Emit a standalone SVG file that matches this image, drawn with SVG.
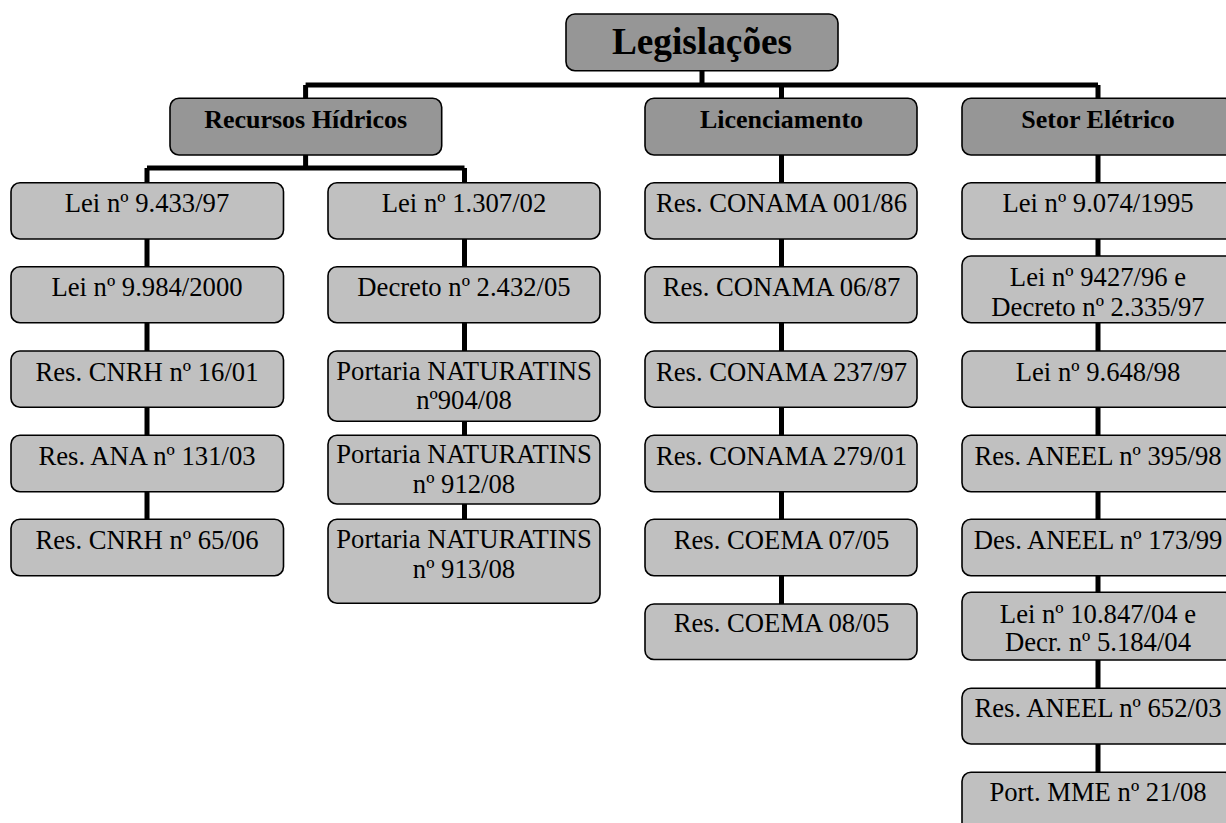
<svg xmlns="http://www.w3.org/2000/svg" width="1226" height="823" viewBox="0 0 1226 823">
<style>
.cat{fill:#969696;stroke:#000;stroke-width:1.6}
.leaf{fill:#c0c0c0;stroke:#000;stroke-width:1.6}
.t{font-family:"Liberation Serif","Times New Roman",serif;font-size:26.67px;fill:#000;text-anchor:middle}
.b{font-weight:bold}
.root{font-size:37.3px}
.cl{font-size:26px}
.c{stroke:#000;stroke-width:5;fill:none}
</style>
<rect width="1226" height="823" fill="#fff"/>
<g id="connectors">
<path class="c" d="M702 70 V85 M305.6 85 H1098 M305.6 85 V99 M781.5 85 V99 M1098 85 V99"/>
<path class="c" d="M305.6 155 V168 M147 168 H464.5 M147 168 V183 M464.5 168 V183"/>
<path class="c" d="M147 239 V267 M147 323 V351 M147 407 V435 M147 492 V519"/>
<path class="c" d="M464.5 239 V267 M464.5 323 V351 M464.5 421 V435 M464.5 504 V519"/>
<path class="c" d="M781.5 155 V183 M781.5 239 V267 M781.5 323 V351 M781.5 407 V435 M781.5 492 V519 M781.5 576 V604"/>
<path class="c" d="M1098 155 V183 M1098 239 V256 M1098 323 V351 M1098 407 V435 M1098 492 V519 M1098 576 V592 M1098 660 V688 M1098 744 V772"/>
</g>
<g id="root"><rect class="cat" x="566" y="14" width="272" height="56.7" rx="9"/><text class="t b root" x="702" y="54">Legislações</text></g>
<g id="recursos"><rect class="cat" x="170" y="98.3" width="271.7" height="56.7" rx="9"/><text class="t b cl" x="305.6" y="128.3">Recursos Hídricos</text></g>
<g id="licenciamento"><rect class="cat" x="645" y="98.3" width="272" height="56.7" rx="9"/><text class="t b cl" x="781.5" y="128.3">Licenciamento</text></g>
<g id="setor"><rect class="cat" x="962" y="98.3" width="272" height="56.7" rx="9"/><text class="t b cl" x="1098" y="128.3">Setor Elétrico</text></g>

<g id="rh1"><rect class="leaf" x="11" y="182.7" width="272.5" height="56.3" rx="9"/><text class="t" x="147" y="212.3">Lei nº 9.433/97</text></g>
<g id="rh2"><rect class="leaf" x="11" y="266.7" width="272.5" height="56" rx="9"/><text class="t" x="147" y="296">Lei nº 9.984/2000</text></g>
<g id="rh3"><rect class="leaf" x="11" y="351" width="272.5" height="56.3" rx="9"/><text class="t" x="147" y="380.5">Res. CNRH nº 16/01</text></g>
<g id="rh4"><rect class="leaf" x="11" y="435.3" width="272.5" height="56.4" rx="9"/><text class="t" x="147" y="464.8">Res. ANA nº 131/03</text></g>
<g id="rh5"><rect class="leaf" x="11" y="519.3" width="272.5" height="56.4" rx="9"/><text class="t" x="147" y="548.8">Res. CNRH nº 65/06</text></g>

<g id="rh6"><rect class="leaf" x="328" y="182.7" width="272" height="56.3" rx="9"/><text class="t" x="464" y="212.3">Lei nº 1.307/02</text></g>
<g id="rh7"><rect class="leaf" x="328" y="266.7" width="272" height="56" rx="9"/><text class="t" x="464" y="296">Decreto nº 2.432/05</text></g>
<g id="rh8"><rect class="leaf" x="328" y="351" width="272" height="70.3" rx="9"/><text class="t" x="464" y="380">Portaria NATURATINS</text><text class="t" x="464" y="409.3">nº904/08</text></g>
<g id="rh9"><rect class="leaf" x="328" y="435.3" width="272" height="68.7" rx="9"/><text class="t" x="464" y="463.3">Portaria NATURATINS</text><text class="t" x="464" y="493.3">nº 912/08</text></g>
<g id="rh10"><rect class="leaf" x="328" y="519.3" width="272" height="84" rx="9"/><text class="t" x="464" y="548.3">Portaria NATURATINS</text><text class="t" x="464" y="578.3">nº 913/08</text></g>

<g id="li1"><rect class="leaf" x="645" y="182.7" width="272" height="56.3" rx="9"/><text class="t" x="781.5" y="212.3">Res. CONAMA 001/86</text></g>
<g id="li2"><rect class="leaf" x="645" y="266.7" width="272" height="56" rx="9"/><text class="t" x="781.5" y="296">Res. CONAMA 06/87</text></g>
<g id="li3"><rect class="leaf" x="645" y="351" width="272" height="56.3" rx="9"/><text class="t" x="781.5" y="380.5">Res. CONAMA 237/97</text></g>
<g id="li4"><rect class="leaf" x="645" y="435.3" width="272" height="56.4" rx="9"/><text class="t" x="781.5" y="464.8">Res. CONAMA 279/01</text></g>
<g id="li5"><rect class="leaf" x="645" y="519.3" width="272" height="56.4" rx="9"/><text class="t" x="781.5" y="548.8">Res. COEMA 07/05</text></g>
<g id="li6"><rect class="leaf" x="645" y="604" width="272" height="55.5" rx="9"/><text class="t" x="781.5" y="631.7">Res. COEMA 08/05</text></g>

<g id="se1"><rect class="leaf" x="962" y="182.7" width="272" height="56.3" rx="9"/><text class="t" x="1098" y="212.3">Lei nº 9.074/1995</text></g>
<g id="se2"><rect class="leaf" x="962" y="256" width="272" height="66.7" rx="9"/><text class="t" x="1098" y="286">Lei nº 9427/96 e</text><text class="t" x="1098" y="315.5">Decreto nº 2.335/97</text></g>
<g id="se3"><rect class="leaf" x="962" y="351" width="272" height="56.3" rx="9"/><text class="t" x="1098" y="380.5">Lei nº 9.648/98</text></g>
<g id="se4"><rect class="leaf" x="962" y="435.3" width="272" height="56.4" rx="9"/><text class="t" x="1098" y="464.8">Res. ANEEL nº 395/98</text></g>
<g id="se5"><rect class="leaf" x="962" y="519.3" width="272" height="56.4" rx="9"/><text class="t" x="1098" y="548.8">Des. ANEEL nº 173/99</text></g>
<g id="se6"><rect class="leaf" x="962" y="592.3" width="272" height="67.7" rx="9"/><text class="t" x="1098" y="623.3">Lei nº 10.847/04 e</text><text class="t" x="1098" y="650.7">Decr. nº 5.184/04</text></g>
<g id="se7"><rect class="leaf" x="962" y="688.3" width="272" height="55.7" rx="9"/><text class="t" x="1098" y="717.3">Res. ANEEL nº 652/03</text></g>
<g id="se8"><rect class="leaf" x="962" y="772.3" width="272" height="60" rx="9"/><text class="t" x="1098" y="801.3">Port. MME nº 21/08</text></g>
</svg>
